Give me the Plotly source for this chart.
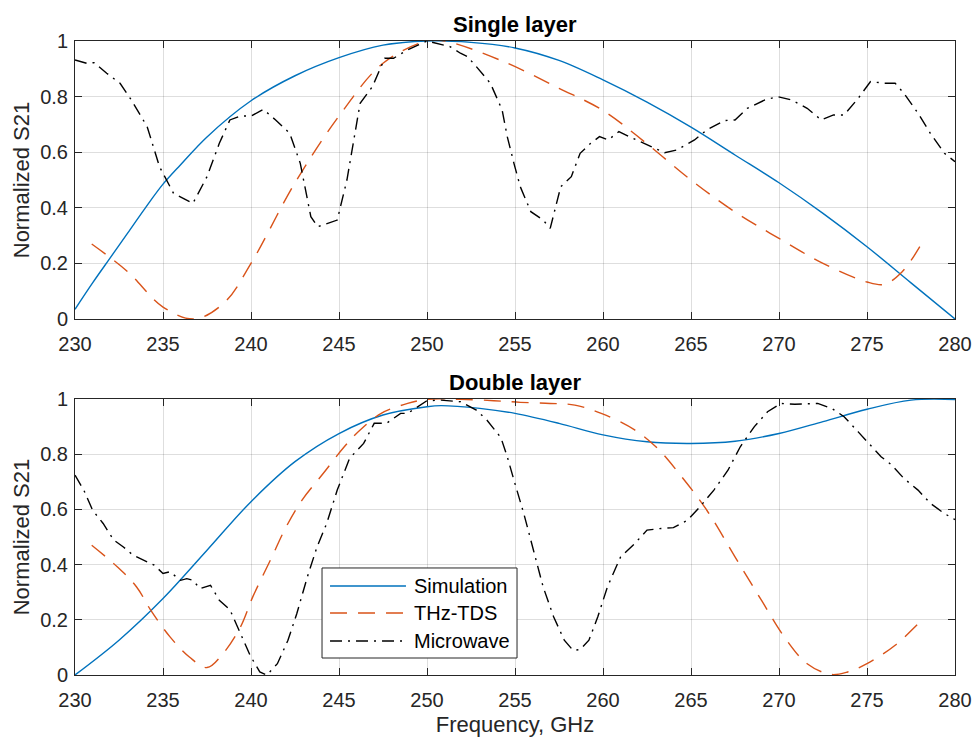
import plotly.graph_objects as go
from plotly.subplots import make_subplots

# ---------------- Single layer ----------------
sim1_f = [230, 231, 232, 233, 234, 235, 236, 237.5, 240, 242.5, 245, 247.5, 250,
          252.5, 255, 257.5, 260, 262.5, 265, 267.5, 270, 272.5, 275, 277.5, 280]
sim1_s = [0.035, 0.13, 0.22, 0.31, 0.40, 0.485, 0.555, 0.655, 0.785, 0.875, 0.94,
          0.985, 1.0, 0.995, 0.975, 0.93, 0.86, 0.78, 0.69, 0.59, 0.49, 0.38,
          0.26, 0.13, 0.0]

tds1_f = [230.95, 233, 235, 236.8, 238.5, 240, 242.5, 245, 247.5, 250, 251,
          254.2, 257.5, 260, 262.5, 265, 267.5, 270, 272.5, 275, 276, 277, 278]
tds1_s = [0.27, 0.17, 0.043, 0.0, 0.06, 0.20, 0.49, 0.73, 0.92, 1.0, 1.0,
          0.93, 0.83, 0.75, 0.63, 0.50, 0.385, 0.29, 0.20, 0.133, 0.125, 0.17, 0.26]

mw1_f = [230, 230.66, 231.1, 231.8, 232.56, 233.2, 234.1, 234.8, 235.6, 236.7,
         237.5, 238.2, 238.8, 239.4, 240.0, 240.7, 241.4, 242.2, 242.8, 243.4,
         243.8, 244.9, 245.45, 246.2, 246.9, 247.6, 248.1, 248.9, 250.0, 250.8,
         251.3, 251.9, 252.3, 252.8, 253.6, 254.27, 254.56, 254.94, 255.3, 255.9,
         256.6, 257.0, 257.6, 258.2, 258.7, 259.3, 259.8, 260.3, 260.9, 261.7,
         262.5, 263.5, 264.2, 265.2, 265.9, 266.9, 267.5, 268.2, 269.2, 269.9,
         270.7, 271.6, 272.4, 273.1, 273.7, 274.5, 275.2, 276.0, 276.6, 277.1,
         277.9, 278.6, 279.4, 280]
mw1_s = [0.932, 0.92, 0.922, 0.884, 0.848, 0.788, 0.692, 0.548, 0.452, 0.416,
         0.512, 0.632, 0.716, 0.73, 0.73, 0.754, 0.716, 0.668, 0.56, 0.368,
         0.332, 0.356, 0.50, 0.776, 0.836, 0.938, 0.938, 0.968, 1.0, 0.986,
         0.98, 0.956, 0.944, 0.908, 0.848, 0.752, 0.656, 0.56, 0.476, 0.386,
         0.356, 0.326, 0.476, 0.512, 0.596, 0.632, 0.656, 0.644, 0.674, 0.65,
         0.626, 0.598, 0.608, 0.644, 0.68, 0.714, 0.716, 0.758, 0.788, 0.80,
         0.788, 0.758, 0.716, 0.734, 0.734, 0.794, 0.854, 0.848, 0.848, 0.812,
         0.74, 0.668, 0.596, 0.566]

# ---------------- Double layer ----------------
sim2_f = [230, 232.5, 235, 237.5, 240, 242.5, 245, 247.5, 250, 250.8, 253,
          255, 257.5, 260, 262.5, 265, 267.5, 270, 272.5, 275, 277.5, 280]
sim2_s = [0.0, 0.126, 0.277, 0.452, 0.628, 0.773, 0.875, 0.942, 0.972, 0.976,
          0.966, 0.948, 0.912, 0.87, 0.845, 0.839, 0.847, 0.875, 0.918, 0.963,
          0.996, 0.998]

tds2_f = [230.95, 232.4, 233.5, 234.3, 235.4, 236.5, 237.5, 238.4, 239.4, 240.1,
          241.1, 242.0, 242.9, 244.1, 245.3, 246.2, 247.4, 248.9, 250, 251.9,
          253.8, 255.3, 257.0, 258.4, 259.9, 261.8, 263.1, 264.4, 265.9, 267.5,
          269.0, 270.3, 271.6, 272.95, 273.9, 275.0, 276.6, 278.1]
tds2_s = [0.47, 0.392, 0.319, 0.235, 0.138, 0.065, 0.027, 0.077, 0.174, 0.283,
          0.416, 0.537, 0.634, 0.73, 0.827, 0.888, 0.948, 0.984, 0.999, 0.999,
          0.994, 0.988, 0.984, 0.978, 0.948, 0.888, 0.821, 0.724, 0.597, 0.428,
          0.271, 0.138, 0.041, 0.002, 0.011, 0.041, 0.108, 0.198]

mw2_f = [230, 230.5, 231.0, 231.6, 232.2, 232.75, 233.3, 233.9, 234.5, 235.0,
         235.4, 236.0, 236.35, 236.7, 237.1, 237.7, 238.2, 238.8, 239.4, 239.95,
         240.5, 240.9, 241.5, 242.1, 242.6, 243.2, 243.75, 244.3, 244.9, 245.6,
         246.4, 247.0, 247.7, 248.5, 248.9, 249.6, 250.0, 250.8, 251.5, 251.9,
         252.8, 253.4, 254.2, 254.56, 254.94, 255.5, 256.1, 256.6, 257.2, 257.8,
         258.3, 258.7, 259.2, 259.7, 260.25, 261.0, 261.8, 262.5, 263.3, 264.0,
         264.8, 265.5, 266.3, 267.1, 267.8, 268.6, 269.35, 270.1, 270.9, 272.2,
         273.0, 273.7, 274.5, 275.0, 275.8, 276.4, 277.1, 277.9, 278.6, 279.4, 280]
mw2_s = [0.724, 0.67, 0.597, 0.549, 0.489, 0.464, 0.434, 0.416, 0.398, 0.368,
         0.374, 0.343, 0.349, 0.343, 0.313, 0.325, 0.271, 0.237, 0.15, 0.071,
         0.011, 0.0, 0.041, 0.126, 0.222, 0.355, 0.464, 0.549, 0.67, 0.785,
         0.839, 0.912, 0.912, 0.948, 0.948, 0.978, 0.994, 0.996, 0.993, 0.99,
         0.96, 0.924, 0.86, 0.791, 0.706, 0.585, 0.44, 0.319, 0.21, 0.126,
         0.089, 0.092, 0.126, 0.21, 0.319, 0.428, 0.476, 0.525, 0.531, 0.534,
         0.561, 0.609, 0.67, 0.742, 0.827, 0.9, 0.954, 0.984, 0.981, 0.984,
         0.966, 0.936, 0.881, 0.845, 0.791, 0.761, 0.712, 0.67, 0.622, 0.585, 0.563]

x_ticks = [230, 235, 240, 245, 250, 255, 260, 265, 270, 275, 280]
y_ticks = [0, 0.2, 0.4, 0.6, 0.8, 1]
y_ticktext = ["0", "0.2", "0.4", "0.6", "0.8", "1"]
legend_names = ["Simulation", "THz-TDS", "Microwave"]

BLUE = "#0072BD"
ORANGE = "#D95319"
BLACK = "#000000"
AXIS = "#262626"
FONT = "Liberation Sans"
DASHES = ["solid", "17px,11px", "12px,6px,2px,6px"]
COLORS = [BLUE, ORANGE, BLACK]
SHAPES = ["spline", "spline", "linear"]

fig = make_subplots(rows=2, cols=1)

top = [(sim1_f, sim1_s), (tds1_f, tds1_s), (mw1_f, mw1_s)]
bottom = [(sim2_f, sim2_s), (tds2_f, tds2_s), (mw2_f, mw2_s)]
for i, name in enumerate(legend_names):
    line = dict(color=COLORS[i], width=1.4, dash=DASHES[i], shape=SHAPES[i])
    fig.add_trace(go.Scatter(x=top[i][0], y=top[i][1], mode="lines", name=name,
                             showlegend=False, line=line), row=1, col=1)
    fig.add_trace(go.Scatter(x=bottom[i][0], y=bottom[i][1], mode="lines", name=name,
                             showlegend=False, line=line), row=2, col=1)

axis_common = dict(showline=True, linecolor=AXIS, linewidth=1, mirror="ticks",
                   ticks="inside", ticklen=7, tickcolor=AXIS, showgrid=True,
                   gridcolor="rgba(0,0,0,0.13)", gridwidth=1, zeroline=False,
                   automargin=False,
                   tickfont=dict(family=FONT, size=20, color=AXIS))

for r in (1, 2):
    fig.update_xaxes(range=[230, 280], tickvals=x_ticks, ticklabelstandoff=7,
                     **axis_common, row=r, col=1)
    fig.update_yaxes(range=[0, 1], tickvals=y_ticks, ticktext=y_ticktext,
                     ticklabelstandoff=2,
                     title=dict(text="Normalized S21", standoff=4,
                                font=dict(family=FONT, size=22, color=AXIS)),
                     **axis_common, row=r, col=1)

fig.update_xaxes(title=dict(text="Frequency, GHz", standoff=6,
                            font=dict(family=FONT, size=22, color=AXIS)), row=2, col=1)

TOP_DOMAIN = [0.5615, 1.0]
BOT_DOMAIN = [0.0, 0.4353]
fig.update_layout(xaxis=dict(domain=[0, 1]), xaxis2=dict(domain=[0, 1]),
                  yaxis=dict(domain=TOP_DOMAIN), yaxis2=dict(domain=BOT_DOMAIN))

for title, ytop in (("Single layer", TOP_DOMAIN[1]), ("Double layer", BOT_DOMAIN[1])):
    fig.add_annotation(text=f"<b>{title}</b>", x=0.5, y=ytop, xref="paper", yref="paper",
                       xanchor="center", yanchor="bottom", yshift=2, showarrow=False,
                       font=dict(family=FONT, size=22, color="#000000"))

# Legend box inside the lower panel, with long line samples
LEG_X0, LEG_X1 = 0.2807, 0.5023
LEG_Y0, LEG_Y1 = 0.0268, 0.1688
LEG_ROWS = [0.1404, 0.0978, 0.0536]
SAMPLE_X0, SAMPLE_X1, TEXT_X = 0.2898, 0.3761, 0.3830
fig.add_shape(type="rect", xref="paper", yref="paper", x0=LEG_X0, x1=LEG_X1,
              y0=LEG_Y0, y1=LEG_Y1, fillcolor="white", line=dict(color=AXIS, width=1),
              layer="above")
for i, name in enumerate(legend_names):
    fig.add_shape(type="line", xref="paper", yref="paper", x0=SAMPLE_X0, x1=SAMPLE_X1,
                  y0=LEG_ROWS[i], y1=LEG_ROWS[i], layer="above",
                  line=dict(color=COLORS[i], width=1.4, dash=DASHES[i]))
    fig.add_annotation(text=name, x=TEXT_X, y=LEG_ROWS[i], xref="paper", yref="paper",
                       xanchor="left", yanchor="middle", showarrow=False,
                       font=dict(family=FONT, size=20, color="#000000"))

fig.update_layout(
    width=975, height=740,
    margin=dict(l=75, r=20, t=41, b=65),
    paper_bgcolor="white", plot_bgcolor="white",
    font=dict(family=FONT, color=AXIS),
    showlegend=False,
)

fig.write_html("out.html")
